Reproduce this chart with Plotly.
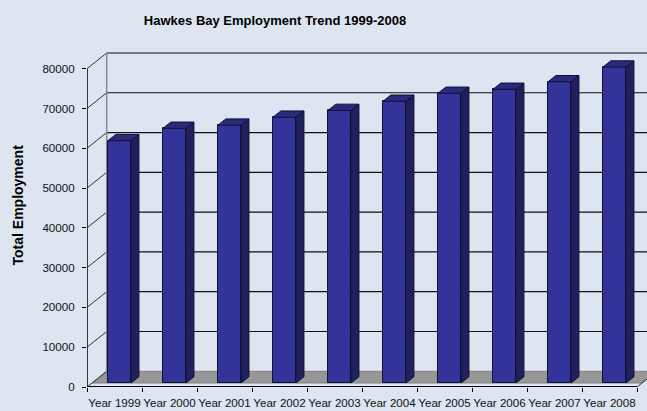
import plotly.graph_objects as go

# ---------------- data ----------------
years = [1999, 2000, 2001, 2002, 2003, 2004, 2005, 2006, 2007, 2008]
year_labels = ["Year %d" % y for y in years]
employment = [60900, 64000, 64800, 66800, 68500, 70800, 72800, 73800, 75700, 79400]
y_ticks = [0, 10000, 20000, 30000, 40000, 50000, 60000, 70000, 80000]
y_max = 80000

# ---------------- geometry (3-D look) ----------------
PX_PER_CAT = 55.0          # pixels per category
PX_PER_VAL = 0.003979      # pixels per employment unit
DX = 19.7 / PX_PER_CAT     # full depth offset, x units
DY = 15.7 / PX_PER_VAL     # full depth offset, value units
F0, F1 = 0.255, 0.655      # bar front / back depth fraction
BAR_W = 0.42
n = len(years)

BG = "#dce5f0"
FRONT = "#333399"
SIDE = "#20205f"
TOP = "#2a2a7c"
EDGE = "#111133"

fig = go.Figure()

# front faces of the columns
xs_front = [i + F0 * DX for i in range(n)]
fig.add_trace(go.Bar(
    x=xs_front, y=employment, base=F0 * DY, width=BAR_W,
    marker=dict(color=FRONT, line=dict(color=EDGE, width=1)),
    hoverinfo="skip", showlegend=False,
))

bdx = (F1 - F0) * DX
bdy = (F1 - F0) * DY
for i, v in enumerate(employment):
    xl = xs_front[i] - BAR_W / 2
    xr = xs_front[i] + BAR_W / 2
    base = F0 * DY
    top = base + v
    # side face
    fig.add_trace(go.Scatter(
        x=[xr, xr, xr + bdx, xr + bdx, xr],
        y=[base, top, top + bdy, base + bdy, base],
        mode="lines", fill="toself", fillcolor=SIDE,
        line=dict(color=EDGE, width=1), hoverinfo="skip", showlegend=False,
    ))
    # top face
    fig.add_trace(go.Scatter(
        x=[xl, xr, xr + bdx, xl + bdx, xl],
        y=[top, top, top + bdy, top + bdy, top],
        mode="lines", fill="toself", fillcolor=TOP,
        line=dict(color=EDGE, width=1), hoverinfo="skip", showlegend=False,
    ))

# dummy trace for the boundary-tick axis
fig.add_trace(go.Scatter(x=[0], y=[0], xaxis="x2", mode="none",
                         hoverinfo="skip", showlegend=False))

x0, x1 = -0.5, n - 0.5
shapes = []
# floor
shapes.append(dict(
    type="path", layer="below", xref="x", yref="y",
    path="M %f,%f L %f,%f L %f,%f L %f,%f Z" % (
        x0 + F0 * DX, F0 * DY, x1 + F0 * DX, F0 * DY,
        x1 + DX, DY, x0 + DX, DY),
    fillcolor="#979797", line=dict(color="#808080", width=1),
))
# back-wall gridlines and side-wall slants
for t in y_ticks:
    if t > 0:
        shapes.append(dict(type="line", layer="below", xref="x", yref="y",
                           x0=x0 + DX, y0=t + DY, x1=x1 + DX + 1, y1=t + DY,
                           line=dict(color="#111111", width=1.2)))
    shapes.append(dict(type="line", layer="below", xref="x", yref="y",
                       x0=x0, y0=t, x1=x0 + DX, y1=t + DY,
                       line=dict(color="#333333", width=1)))
# back wall left edge
shapes.append(dict(type="line", layer="below", xref="x", yref="y",
                   x0=x0 + DX, y0=DY, x1=x0 + DX, y1=y_max + DY,
                   line=dict(color="#8c8c8c", width=1.5)))
# floor right slant
shapes.append(dict(type="line", layer="below", xref="x", yref="y",
                   x0=x1, y0=0, x1=x1 + DX, y1=DY,
                   line=dict(color="#333333", width=1)))
# front axes
shapes.append(dict(type="line", layer="above", xref="x", yref="y",
                   x0=x0, y0=0, x1=x1, y1=0,
                   line=dict(color="black", width=2)))
shapes.append(dict(type="line", layer="above", xref="x", yref="y",
                   x0=x0, y0=0, x1=x0, y1=y_max,
                   line=dict(color="black", width=1.5)))

W, H = 647, 411
ML, MB, MT = 87, 24, 40
plot_w = W - ML
plot_h = H - MB - MT
x_range = [x0, x0 + plot_w / PX_PER_CAT]
y_range = [0, plot_h / PX_PER_VAL]

tick_font = dict(family="Liberation Sans, Arial, sans-serif", size=11.6, color="#111111")

fig.update_layout(
    width=W, height=H,
    margin=dict(l=ML, r=0, t=MT, b=MB, pad=0, autoexpand=False),
    paper_bgcolor=BG, plot_bgcolor=BG,
    showlegend=False, bargap=0,
    title=dict(
        text="Hawkes Bay Employment Trend 1999-2008",
        x=275 / W, xref="container", xanchor="center",
        y=1 - 20 / H, yref="container", yanchor="middle",
        automargin=False,
        font=dict(family="Liberation Sans, Arial, sans-serif",
                  size=13, color="black", weight="bold"),
    ),
    xaxis=dict(
        range=x_range, tickvals=list(range(n)), ticktext=year_labels,
        ticks="", showline=False, showgrid=False, zeroline=False,
        tickfont=tick_font, ticklabelstandoff=7, automargin=False,
    ),
    xaxis2=dict(
        range=x_range, overlaying="x", anchor="y", side="bottom",
        tickvals=[i - 0.5 for i in range(n + 1)], ticks="outside", ticklen=4,
        tickcolor="black", tickwidth=1, showticklabels=False,
        showline=False, showgrid=False, zeroline=False, automargin=False,
    ),
    yaxis=dict(
        range=y_range, tickvals=y_ticks, ticktext=[str(t) for t in y_ticks],
        ticks="outside", ticklen=4, tickcolor="black", tickwidth=1,
        showline=False, showgrid=False, zeroline=False, tickfont=tick_font,
        ticklabelstandoff=5, automargin=False,
    ),
    shapes=shapes,
    annotations=[dict(
        text="<b>Total Employment</b>", xref="paper", yref="paper",
        x=(17.5 - ML) / plot_w, y=(387 - 205) / plot_h,
        xanchor="center", yanchor="middle", textangle=-90, showarrow=False,
        font=dict(family="Liberation Sans, Arial, sans-serif", size=14, color="black"),
    )],
)

fig.write_html("out.html")
